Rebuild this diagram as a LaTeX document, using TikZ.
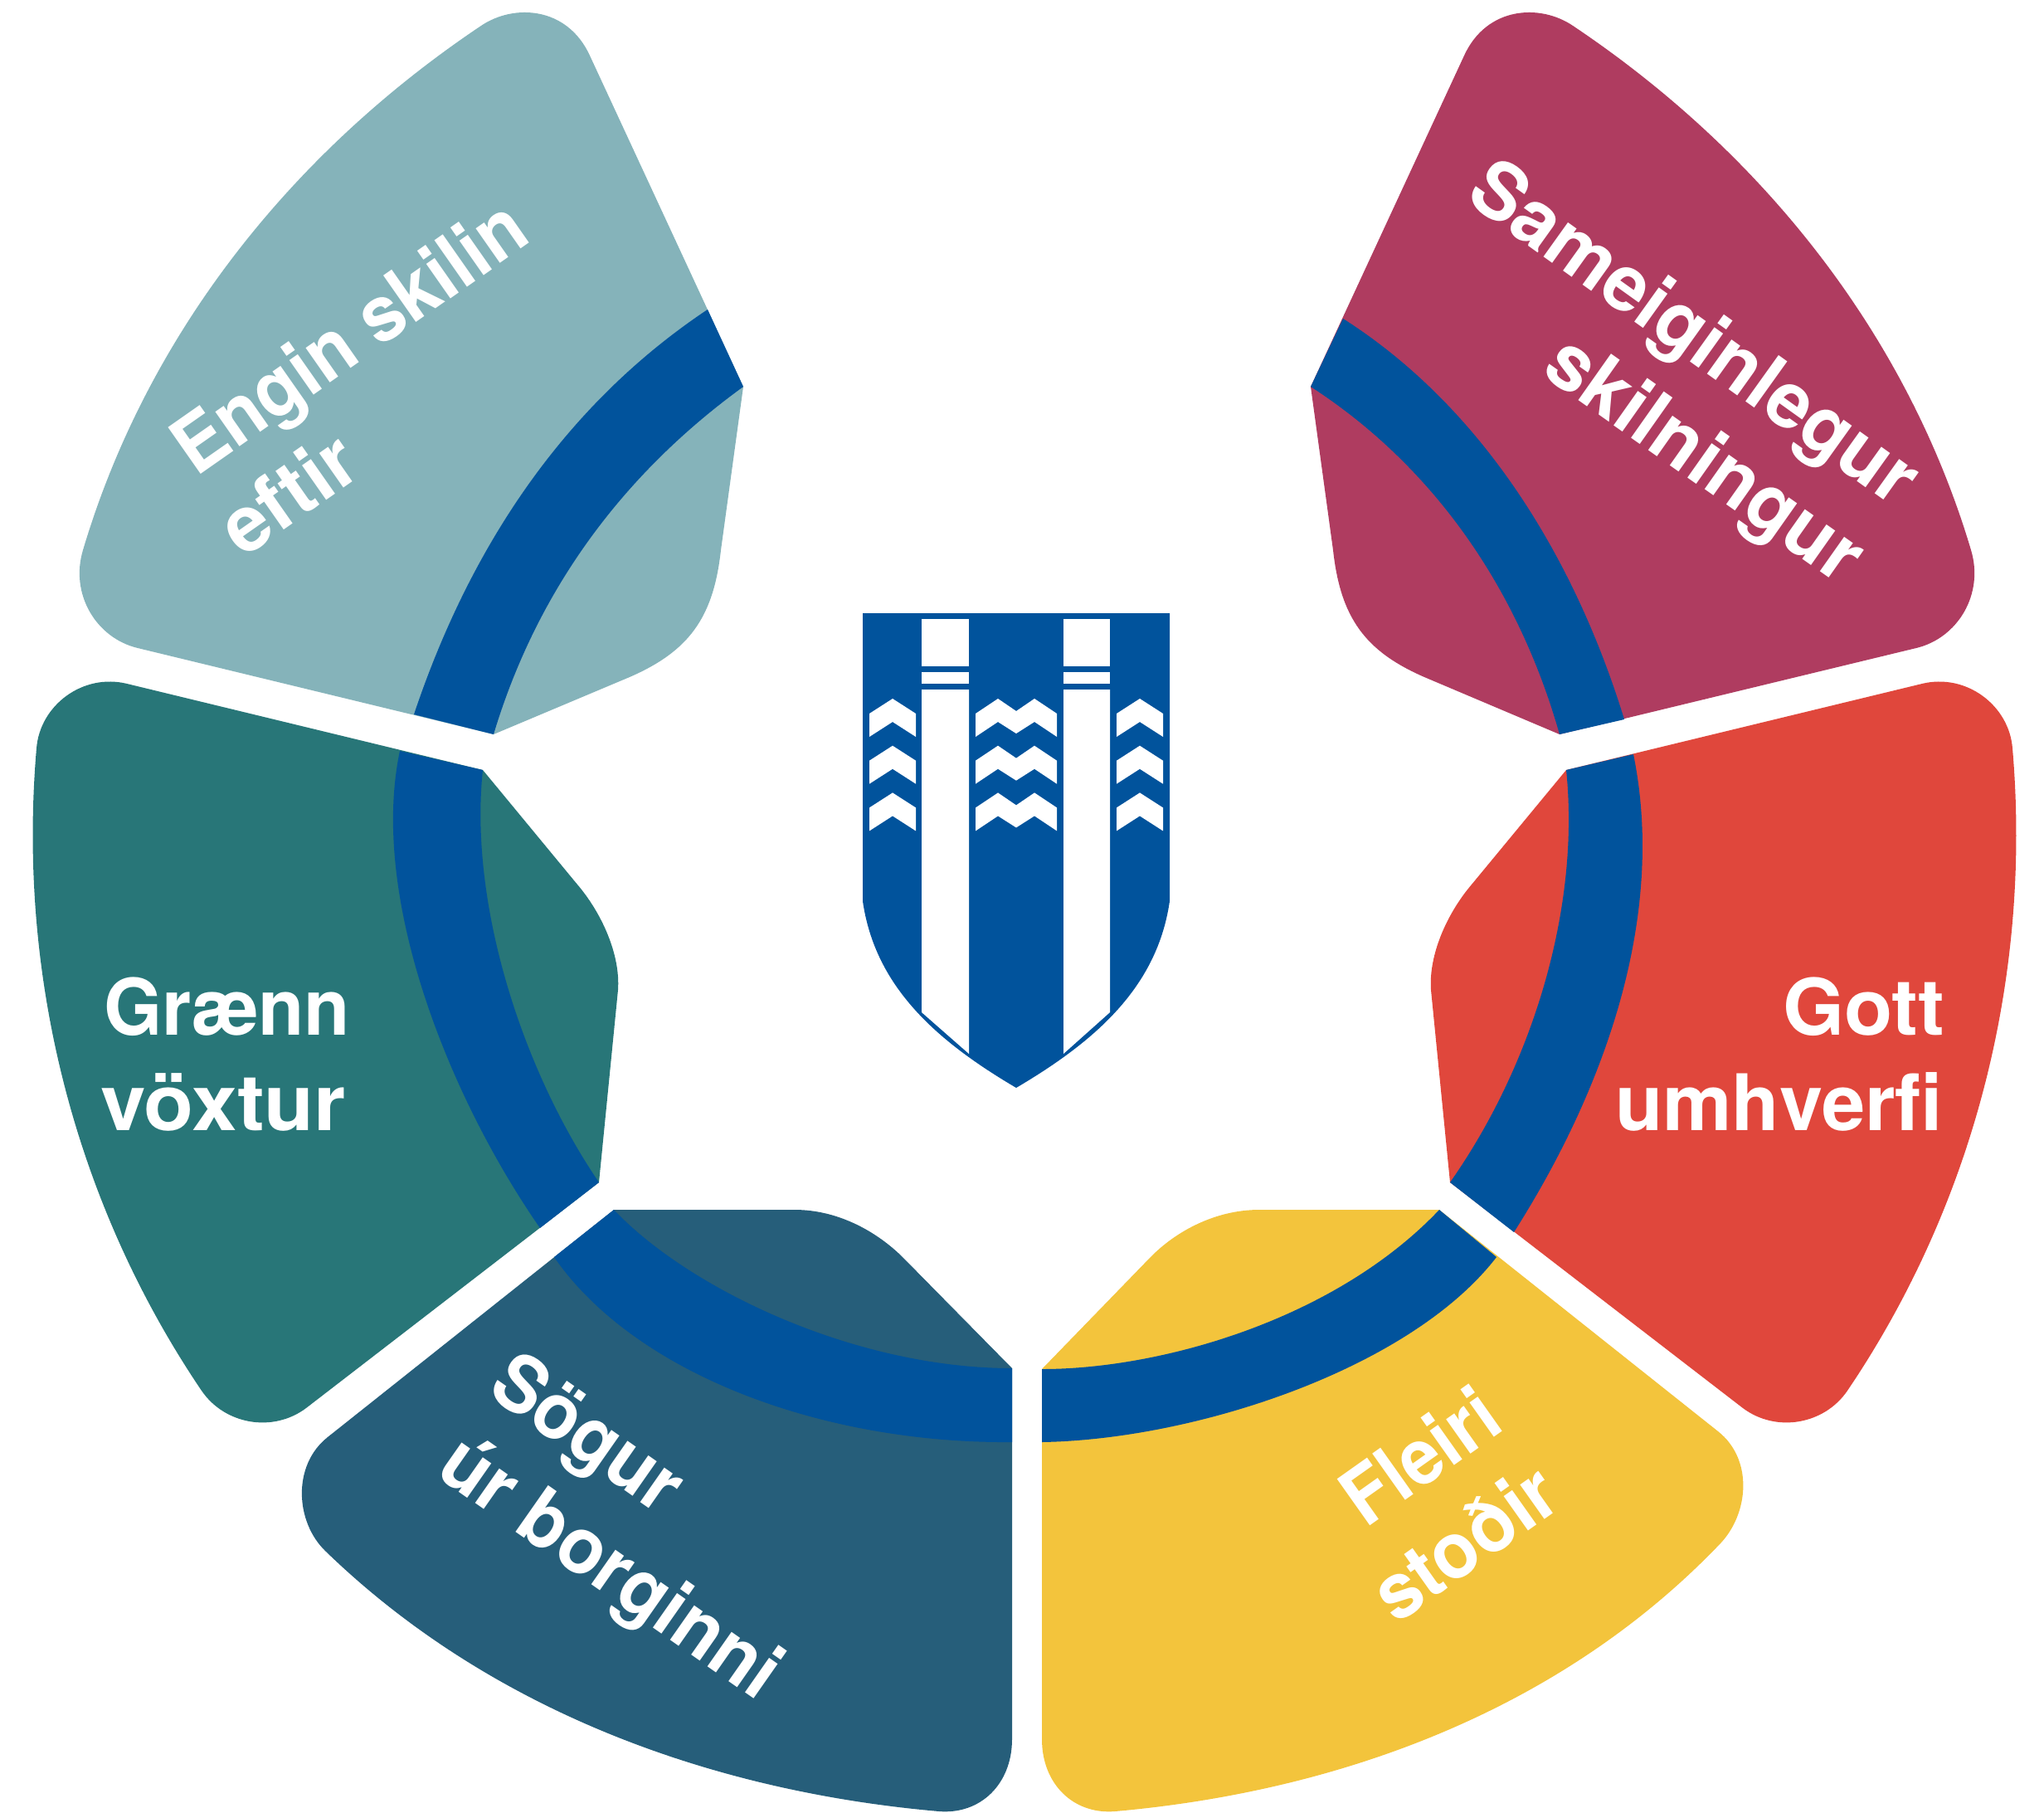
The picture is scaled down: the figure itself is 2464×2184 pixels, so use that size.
\documentclass[tikz,border=0pt]{standalone}
\usepackage{fontspec}
\usepackage{graphicx}
\newfontfamily\labfont{TeX Gyre Heros}
\definecolor{cband}{HTML}{01539C}
\definecolor{cteal}{HTML}{85B3BA}
\definecolor{cgreen}{HTML}{287678}
\definecolor{cnavy}{HTML}{265E7A}
\definecolor{cyellow}{HTML}{F3C43C}
\definecolor{cred}{HTML}{E0473C}
\definecolor{cmaroon}{HTML}{AF3C60}
\tikzset{
  band/.style={fill=cband},
  crest/.style={fill=cband},
  crestw/.style={fill=white},
  lab/.style={inner sep=0pt,outer sep=0pt,anchor=base west,text=white},
}
\newcommand{\lbl}[2]{\resizebox{#1pt}{\height}{\labfont\bfseries\fontsize{94}{94}\selectfont #2}}
\begin{document}
\begin{tikzpicture}[x=1pt,y=-1pt]
\useasboundingbox (0,0) rectangle (2464,2184);
% slices
\fill[cteal] (100,663) .. controls (178,401) and (353,183) .. (580,31)
  .. controls (620,4) and (684,8) .. (711,67) -- (896,466) -- (869,663)
  .. controls (860,745) and (830,785) .. (759,816) -- (595,885) -- (166,781)
  .. controls (116,769) and (84,716) .. (100,663) -- cycle;
\fill[cmaroon] (2376,663) .. controls (2298,401) and (2123,183) .. (1896,31)
  .. controls (1856,4) and (1792,8) .. (1765,67) -- (1580,466) -- (1607,663)
  .. controls (1616,745) and (1646,785) .. (1717,816) -- (1880,885) -- (2310,781)
  .. controls (2360,769) and (2392,716) .. (2376,663) -- cycle;
\fill[cgreen] (153,824) -- (582,928) -- (696,1066)
  .. controls (725,1100) and (748,1150) .. (745,1193) -- (722,1425) -- (369,1697)
  .. controls (329,1727) and (271,1717) .. (243,1676)
  .. controls (89.5,1449) and (20.6,1175) .. (44,902)
  .. controls (48,850) and (100,811) .. (153,824) -- cycle;
\fill[cred] (2317,824) -- (1888,928) -- (1774,1066)
  .. controls (1745,1100) and (1722,1150) .. (1725,1193) -- (1748,1425) -- (2101,1697)
  .. controls (2141,1727) and (2199,1717) .. (2227,1676)
  .. controls (2380.5,1449) and (2449.4,1175) .. (2426,902)
  .. controls (2422,850) and (2370,811) .. (2317,824) -- cycle;
\fill[cnavy] (740,1458) -- (958,1458) .. controls (1010,1458) and (1057,1484) .. (1089,1516)
  -- (1220,1649) -- (1220,2096) .. controls (1220,2150) and (1182,2187) .. (1132,2183)
  .. controls (857,2159) and (590,2061) .. (392,1869)
  .. controls (356,1834) and (352,1766) .. (395,1732) -- cycle;
\fill[cyellow] (1735,1458) -- (1518,1458) .. controls (1465,1458) and (1417,1484) .. (1386,1516)
  -- (1256,1650) -- (1256,2096) .. controls (1256,2150) and (1294,2187) .. (1344,2183)
  .. controls (1615,2159) and (1882,2061) .. (2074,1860)
  .. controls (2108,1824) and (2114,1759) .. (2071,1725) -- cycle;
% blue ring pieces
\fill[band] (499,861) .. controls (566,661) and (679,489) .. (853,373) -- (896,466)
  .. controls (750,572) and (647,712) .. (595,885) -- cycle;
\fill[band] (1619,384) .. controls (1787,491) and (1898,672) .. (1958,867) -- (1880,885)
  .. controls (1831,712) and (1730,563) .. (1580,466) -- cycle;
\fill[band] (482,905) .. controls (445,1080) and (540,1320) .. (651,1480) -- (722,1425)
  .. controls (630,1290) and (565,1090) .. (582,928) -- cycle;
\fill[band] (1969,909) .. controls (2010,1110) and (1930,1320) .. (1825,1485) -- (1748,1425)
  .. controls (1850,1280) and (1905,1090) .. (1888,928) -- cycle;
\fill[band] (740,1458) .. controls (830,1553) and (1030,1649) .. (1220,1649) -- (1220,1738)
  .. controls (990,1740) and (765,1655) .. (668,1515) -- cycle;
\fill[band] (1735,1458) .. controls (1610,1590) and (1400,1650) .. (1256,1650) -- (1256,1738)
  .. controls (1440,1735) and (1700,1650) .. (1804,1515) -- cycle;
% crest
\fill[crest] (1040,739) -- (1410,739) -- (1410,1086)
  .. controls (1395,1190) and (1320,1255) .. (1225,1311)
  .. controls (1130,1255) and (1055,1190) .. (1040,1086) -- cycle;
\fill[crestw] (1111,746) rectangle (1168,803);
\fill[crestw] (1111,810) rectangle (1168,824);
\fill[crestw] (1111,831) -- (1168,831) -- (1168,1270) -- (1111,1220) -- cycle;
\fill[crestw] (1282,746) rectangle (1338,803);
\fill[crestw] (1282,810) rectangle (1338,824);
\fill[crestw] (1282,831) -- (1338,831) -- (1338,1220) -- (1282,1270) -- cycle;
\foreach \d in {0,56.7,113.4}{
  \fill[crestw] (1048,860+\d) -- (1076,842+\d) -- (1104,860+\d) -- (1104,888+\d) -- (1076,870+\d) -- (1048,888+\d) -- cycle;
  \fill[crestw] (1346,860+\d) -- (1374,842+\d) -- (1402,860+\d) -- (1402,888+\d) -- (1374,870+\d) -- (1346,888+\d) -- cycle;
  \fill[crestw] (1176,860+\d) -- (1203,842+\d) -- (1225,857+\d) -- (1247,842+\d) -- (1274,860+\d) -- (1274,888+\d) -- (1247,870+\d) -- (1225,884+\d) -- (1203,870+\d) -- (1176,888+\d) -- cycle;
}
% labels
\node[lab,rotate=35] (t1a) at (236,575) {\lbl{497}{Engin skilin}};
\node[lab,rotate=35] (t1b) at (293,673) {\lbl{179}{eftir}};
\node[lab,rotate=-35.6] (t2a) at (1764,240) {\lbl{640}{Sameiginlegur}};
\node[lab,rotate=-35.2] (t2b) at (1856,450) {\lbl{444}{skilningur}};
\node[lab] (t3a) at (125,1247) {\lbl{297}{Grænn}};
\node[lab] (t3b) at (121,1362) {\lbl{296}{vöxtur}};
\node[lab] (t4a) at (2149,1247) {\lbl{195}{Gott}};
\node[lab] (t4b) at (1947,1362) {\lbl{395}{umhverfi}};
\node[lab,rotate=-35] (t5a) at (585,1679) {\lbl{258}{Sögur}};
\node[lab,rotate=-35] (t5b) at (523,1777) {\lbl{478}{úr borginni}};
\node[lab,rotate=35.3] (t6a) at (1646,1842) {\lbl{208}{Fleiri}};
\node[lab,rotate=35.3] (t6b) at (1683,1958) {\lbl{249}{stoðir}};
\end{tikzpicture}
\end{document}
